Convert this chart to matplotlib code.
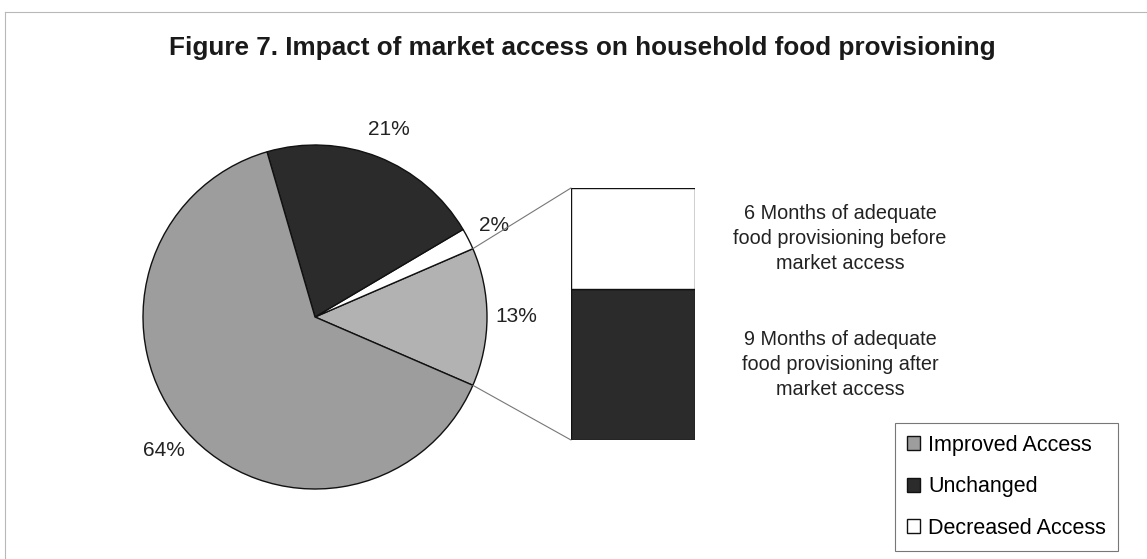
import matplotlib
matplotlib.use("Agg")
import matplotlib.pyplot as plt
from matplotlib.patches import Patch, ConnectionPatch
from matplotlib.lines import Line2D
import numpy as np

plt.rcParams['font.family'] = ['Liberation Sans', 'DejaVu Sans']

# ---- data ----
title = "Figure 7. Impact of market access on household food provisioning"
legend_labels = ["Improved Access", "Unchanged", "Decreased Access"]
# pie order (counter-clockwise from the split-off slice)
pie_values = [13, 2, 21, 64]
pie_colors = ["#b2b2b2", "#ffffff", "#2b2b2b", "#9d9d9d"]
bar_values = [9, 6]  # bottom (after), top (before)
bar_colors = ["#2b2b2b", "#ffffff"]
bar_texts = ["9 Months of adequate\nfood provisioning after\nmarket access",
             "6 Months of adequate\nfood provisioning before\nmarket access"]

W, H = 1147, 559
fig = plt.figure(figsize=(W / 100, H / 100), dpi=100)

def px(l, t, w, h):
    return [l / W, (H - t - h) / H, w / W, h / H]

# outer frame
fig.add_artist(Line2D([5 / W, 1], [1 - 12 / H, 1 - 12 / H], color="#b8b8b8", lw=0.8))
fig.add_artist(Line2D([5 / W, 5 / W], [0, 1 - 12 / H], color="#b8b8b8", lw=0.8))

fig.text(582 / W, 1 - 48 / H, title, ha="center", va="center",
         fontsize=18.8, fontweight="bold", color="#1a1a1a")

# ---- pie ----
R = 172
cx, cy = 315, 317
axp = fig.add_axes(px(cx - R, cy - R, 2 * R, 2 * R))
start = -pie_values[0] / 2 * 3.6
wedges, texts = axp.pie(pie_values, colors=pie_colors, startangle=start,
                        counterclock=True, radius=1,
                        labels=[f"{v}%" for v in pie_values], labeldistance=1.17,
                        wedgeprops=dict(edgecolor="#111111", linewidth=1.0),
                        textprops=dict(fontsize=15, color="#222222"))
for t in texts:
    t.set_ha("center")
    t.set_va("center")
axp.set_xlim(-1, 1)
axp.set_ylim(-1, 1)
axp.set_aspect("equal")
axp.axis("off")

# ---- bar ----
axb = fig.add_axes(px(571, 188, 124, 252))
bottom = 0
for v, c, txt in zip(bar_values, bar_colors, bar_texts):
    axb.bar(0, v, bottom=bottom, width=1, color=c, edgecolor="#111111", linewidth=1.0)
    axb.text(2.17, bottom + v / 2, txt, transform=axb.get_yaxis_transform(),
             ha="center", va="center", fontsize=14.3, color="#222222", linespacing=1.38)
    bottom += v
axb.set_xlim(-0.5, 0.5)
axb.set_ylim(0, sum(bar_values))
axb.axis("off")

# connector lines
w0 = wedges[0]
for ang, ybar in [(w0.theta2, sum(bar_values)), (w0.theta1, 0)]:
    a = np.deg2rad(ang)
    con = ConnectionPatch(xyA=(np.cos(a), np.sin(a)), coordsA=axp.transData,
                          xyB=(-0.5, ybar), coordsB=axb.transData,
                          color="#777777", lw=0.8)
    fig.add_artist(con)

# ---- legend ----
handles = [Patch(facecolor=pie_colors[3], edgecolor="#111111"),
           Patch(facecolor=pie_colors[2], edgecolor="#111111"),
           Patch(facecolor=pie_colors[1], edgecolor="#111111")]
leg = fig.legend(handles, legend_labels, loc="upper left",
                 bbox_to_anchor=(895 / W, 1 - 423 / H), fontsize=15.5,
                 frameon=True, fancybox=False, handlelength=0.6, handleheight=0.6,
                 handletextpad=0.4, labelspacing=0.95, borderpad=0.55, borderaxespad=0)
leg.get_frame().set_edgecolor("#555555")
leg.get_frame().set_linewidth(0.8)

fig.savefig("out.png", dpi=100)
